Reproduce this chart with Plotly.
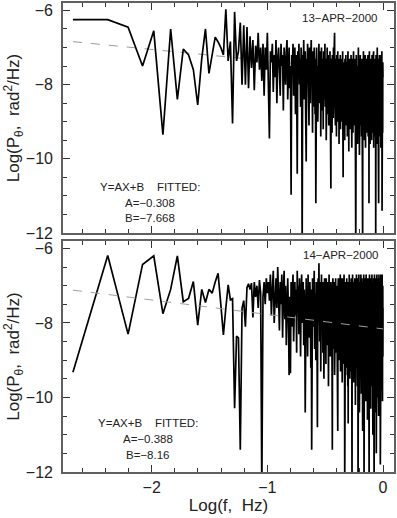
import numpy as np
import plotly.graph_objects as go

N_POINTS = 480
F_STEP = 1.0 / 480.0  # Hz

top_sparse = [-6.25, -6.25, -6.45, -7.5, -6.55, -9.35, -6.5, -8.4, -7.04, -7.2,
              -7.6, -8.55, -7.3, -6.5, -7.7, -7.15, -6.72, -6.85, -7.0, -7.2,
              -5.97, -7.36, -6.84, -9.05, -6.04, -7.36, -7.1, -6.33, -8.0, -6.4,
              -8.0, -6.45, -8.1, -6.7, -7.55, -6.8, -8.15, -6.95, -7.4, -6.6,
              -7.6, -7.0, -7.9, -6.9, -8.3, -7.0, -7.6, -6.6, -7.8, -9.45]
top_dense = [
    -7.1, -7.4, -6.9, -8.2, -7.2, -7.8, -6.8, -8.5, -7.3, -7.0,
    -7.6, -8.3, -6.9, -7.5, -7.2, -8.7, -7.0, -7.4, -8.0, -7.1,
    -6.8, -8.4, -7.3, -7.0, -8.1, -7.5, -10.97, -7.2, -7.6, -6.9,
    -8.3, -7.4, -7.0, -8.8, -7.2, -7.7, -10.4, -7.1, -7.8, -6.9,
    -8.0, -7.3, -8.6, -7.0, -7.5, -12.5, -7.2, -7.9, -6.8, -8.4,
    -7.4, -7.1, -8.9, -10.07, -7.3, -7.6, -6.9, -8.2, -7.4, -9.1,
    -7.0, -7.7, -8.5, -7.2, -6.8, -8.0, -7.5, -9.3, -7.1, -7.8,
    -8.6, -7.0, -7.4, -8.8, -7.3, -11.2, -7.6, -7.0, -8.3, -7.5,
    -9.0, -7.2, -7.8, -6.9, -8.5, -7.4, -8.1, -7.1, -9.4, -7.6,
    -7.0, -8.7, -7.3, -8.0, -7.5, -9.2, -7.1, -7.9, -8.4, -7.2,
    -6.9, -8.6, -7.6, -7.3, -9.5, -7.4, -8.2, -7.0, -8.8, -7.5,
    -7.2, -8.3, -9.1, -7.4, -7.8, -8.6, -7.1, -9.0, -7.6, -10.8,
    -7.3, -8.1, -7.5, -9.3, -7.2, -8.4, -7.7, -8.9, -7.0, -8.2,
    -7.4, -6.9, -6.6, -8.5, -7.6, -9.1, -7.3, -8.0, -7.8, -9.4,
    -7.2, -8.3, -7.5, -8.8, -7.1, -9.0, -7.6, -8.4, -7.3, -9.6,
    -7.4, -8.1, -7.8, -8.7, -7.2, -9.2, -7.5, -8.5, -7.9, -9.0,
    -7.3, -8.6, -7.6, -8.2, -7.1, -9.3, -10.5, -7.7, -8.4, -7.4,
    -8.9, -7.6, -8.1, -9.5, -7.3, -8.6, -7.8, -8.3, -7.2, -9.1,
    -7.5, -8.7, -7.9, -8.4, -7.4, -9.4, -7.6, -8.2, -7.1, -8.9,
    -7.7, -8.5, -9.8, -7.5, -8.1, -7.3, -8.8, -7.8, -9.2, -7.4,
    -8.4, -7.9, -8.6, -7.2, -9.0, -7.6, -8.3, -9.7, -7.5, -8.7,
    -7.3, -8.2, -7.8, -9.3, -7.5, -8.5, -7.1, -8.9, -7.7, -8.4,
    -9.1, -7.4, -8.6, -7.9, -8.2, -7.3, -9.5, -7.6, -12.5, -7.8,
    -8.4, -7.2, -8.8, -7.7, -9.0, -7.5, -8.3, -7.9, -9.6, -7.4,
    -8.5, -7.8, -8.1, -7.0, -9.2, -7.6, -8.7, -7.3, -8.4, -9.9,
    -7.5, -8.2, -7.9, -8.8, -7.2, -9.1, -7.7, -8.5, -7.4, -8.9,
    -7.6, -8.3, -9.4, -7.5, -8.0, -7.3, -11.5, -7.9, -8.6, -12.5,
    -7.4, -8.7, -7.8, -9.2, -7.1, -8.4, -7.6, -9.0, -7.9, -8.2,
    -7.3, -9.5, -7.7, -8.6, -7.5, -8.9, -7.2, -8.3, -9.7, -7.6,
    -8.5, -7.8, -9.1, -7.4, -8.2, -7.9, -8.8, -7.3, -9.3, -7.7,
    -8.4, -7.5, -9.0, -7.8, -8.6, -7.2, -9.4, -7.6, -8.3, -7.9,
    -8.8, -7.4, -11.2, -7.7, -8.5, -7.1, -9.2, -7.8, -8.2, -7.5,
    -9.6, -7.6, -8.7, -7.3, -8.9, -7.9, -8.4, -7.5, -9.1, -7.7,
    -8.3, -7.4, -9.5, -7.8, -8.6, -7.2, -8.1, -7.9, -9.0, -7.5,
    -8.8, -7.6, -9.3, -7.3, -8.5, -7.8, -8.2, -7.1, -9.7, -7.6,
    -8.4, -7.9, -8.9, -7.4, -9.2, -7.7, -8.3, -7.5, -8.7, -7.8,
    -9.4, -7.3, -8.6, -7.9, -12.5, -7.6, -8.5, -7.2, -9.1, -7.8,
    -8.2, -7.5, -9.6, -7.4, -8.8, -7.7, -8.4, -7.0, -9.3, -7.9,
    -8.6, -7.3, -8.9, -7.6, -8.2, -7.8, -9.5, -7.5, -8.4, -11.2,
    -7.7, -8.7, -7.4, -9.0, -7.9, -8.3, -7.2, -9.2, -7.6, -8.5,
    -7.8, -9.4, -7.3, -8.6, -7.5, -8.8, -7.9, -8.1, -7.4, -9.7,
    -7.7, -8.4, -7.2, -9.1, -7.8, -8.6, -7.5, -8.3, -7.1, -9.0,
    -11.4, -7.6, -8.7, -7.3, -8.2, -7.9, -9.3, -7.4, -8.5, -7.8]
top_values = top_sparse + top_dense

bot_sparse = [-9.32, -6.19, -8.3, -6.43, -6.2, -7.75, -7.1, -6.2, -7.43, -7.34,
              -6.89, -8.06, -7.1, -7.45, -7.1, -7.2, -6.9, -6.67, -7.5, -8.32,
              -7.6, -6.98, -7.38, -7.35, -10.29, -8.35, -8.4, -11.4, -7.6, -7.4,
              -8.1, -7.05, -6.95, -7.1, -6.93, -7.85, -6.9, -7.3, -7.0, -7.6,
              -6.85, -7.2, -12.5, -7.3, -6.9, -7.5, -6.8, -7.2, -6.9, -7.4]
bot_dense = [
    -6.7, -7.8, -7.1, -6.6, -8.0, -7.0, -6.8, -7.6, -6.5, -7.3,
    -8.2, -6.9, -7.5, -6.7, -8.4, -7.2, -6.6, -7.9, -7.0, -8.6,
    -7.1, -6.8, -7.7, -9.4, -7.3, -9.35, -6.9, -8.1, -7.2, -6.7,
    -8.5, -7.4, -6.9, -7.8, -7.1, -8.8, -6.6, -7.5, -7.0, -8.3,
    -6.8, -7.6, -8.9, -7.2, -6.7, -8.0, -7.4, -6.9, -8.6, -7.1,
    -7.7, -10.4, -7.0, -6.8, -8.2, -7.3, -8.9, -6.7, -7.6, -7.2,
    -8.4, -6.9, -7.5, -9.2, -7.1, -11.4, -7.4, -6.8, -8.1, -7.0,
    -7.8, -6.6, -8.7, -7.2, -7.5, -9.0, -6.9, -7.7, -8.3, -10.8,
    -7.0, -6.8, -8.0, -6.4, -7.6, -8.5, -7.1, -6.9, -9.3, -7.4,
    -6.7, -8.2, -7.3, -7.0, -8.8, -6.9, -7.7, -9.5, -7.2, -6.8,
    -8.4, -7.5, -7.0, -9.1, -6.8, -7.9, -8.6, -7.2, -6.9, -8.0,
    -7.4, -9.7, -7.1, -6.7, -8.3, -7.6, -7.0, -8.9, -7.3, -6.9,
    -8.5, -7.2, -7.8, -9.2, -11.4, -7.0, -6.8, -8.1, -7.5, -8.7,
    -7.1, -6.9, -9.4, -7.6, -7.2, -8.3, -6.8, -7.9, -8.8, -7.3,
    -7.0, -8.6, -7.4, -9.9, -10.9, -7.1, -6.8, -8.2, -7.6, -9.0,
    -6.9, -6.8, -8.5, -7.3, -6.7, -9.3, -7.5, -8.1, -6.8, -8.7,
    -7.1, -6.8, -9.6, -7.8, -8.3, -6.8, -8.9, -7.0, -7.6, -9.1,
    -6.7, -8.4, -7.5, -12.5, -6.9, -8.6, -6.9, -9.4, -7.7, -8.0,
    -7.0, -8.8, -6.8, -9.2, -7.6, -8.3, -6.9, -9.7, -7.1, -10.7,
    -6.9, -8.5, -7.8, -9.0, -6.7, -8.7, -7.5, -9.5, -7.0, -8.2,
    -6.9, -9.3, -7.6, -8.4, -6.8, -8.9, -7.7, -9.8, -12.5, -7.1,
    -8.1, -6.7, -9.1, -7.5, -8.6, -6.9, -9.6, -7.8, -8.3, -6.9,
    -8.8, -7.1, -9.4, -6.8, -8.5, -7.7, -10.2, -7.0, -8.0, -9.2,
    -7.6, -8.7, -6.7, -9.0, -7.5, -8.4, -6.9, -9.7, -7.8, -8.2,
    -6.8, -12.5, -7.1, -8.9, -7.6, -9.3, -6.7, -8.6, -7.7, -10.4,
    -7.0, -8.1, -7.5, -9.5, -6.9, -8.8, -7.8, -9.1, -6.7, -8.4,
    -7.6, -9.9, -7.0, -8.6, -6.8, -9.2, -7.7, -8.3, -7.1, -10.9,
    -7.5, -8.7, -6.9, -9.4, -7.8, -8.5, -6.7, -9.0, -12.5, -7.6,
    -8.2, -7.0, -9.6, -7.7, -8.8, -6.8, -9.3, -7.5, -8.4, -10.1,
    -7.1, -8.9, -6.7, -9.5, -7.8, -8.6, -6.9, -9.1, -7.6, -8.3,
    -7.0, -10.6, -7.7, -8.7, -6.8, -9.4, -7.5, -8.5, -7.8, -9.8,
    -6.9, -8.2, -7.6, -12.5, -7.1, -9.0, -6.7, -8.8, -7.7, -9.6,
    -7.0, -8.4, -7.9, -9.2, -6.8, -10.3, -7.5, -8.6, -6.9, -9.0,
    -7.8, -8.9, -7.1, -9.7, -6.7, -8.3, -7.6, -9.4, -7.0, -8.7,
    -7.7, -11.0, -6.9, -8.5, -7.5, -9.1, -7.8, -8.2, -6.8, -9.9,
    -7.1, -12.5, -7.6, -8.8, -6.7, -9.5, -7.0, -8.4, -7.9, -9.2,
    -6.9, -8.6, -7.5, -10.4, -7.7, -8.9, -6.8, -9.3, -7.1, -11.5,
    -7.8, -8.3, -7.0, -9.6, -6.7, -8.7, -7.6, -9.0, -6.9, -8.5,
    -7.5, -10.0, -7.8, -8.4, -6.8, -9.4, -7.1, -8.8, -7.7, -10.5,
    -7.0, -8.6, -6.7, -9.7, -7.6, -8.2, -7.9, -9.1, -6.9, -8.9,
    -7.5, -10.2, -6.8, -8.5, -11.8, -7.1, -8.7, -7.8, -9.3, -6.7,
    -8.4, -7.6, -9.8, -7.0, -8.8, -7.7, -9.0, -6.9, -8.3, -7.5,
    -9.5, -6.7, -8.6, -7.1, -10.1, -7.8, -8.2, -7.0, -8.9, -7.6]
bot_values = bot_sparse + bot_dense

FIT_TOP = (-0.308, -7.668)
FIT_BOT = (-0.388, -8.16)
DATE_TOP = "13\u2212APR\u22122000"
DATE_BOT = "14\u2212APR\u22122000"

logf = np.log10(np.arange(1, N_POINTS + 1) * F_STEP)
fit_x = np.array([logf[0], logf[-1]])

FONT = "Liberation Sans, Arial, sans-serif"
FRAME = "#606060"

fig = go.Figure()
# top panel: fit under data
fig.add_trace(go.Scatter(x=fit_x, y=FIT_TOP[0] * fit_x + FIT_TOP[1], mode="lines",
                         line=dict(color="#9a9a9a", width=1, dash="dash"),
                         xaxis="x", yaxis="y", hoverinfo="skip"))
fig.add_trace(go.Scatter(x=logf, y=top_values, mode="lines",
                         line=dict(color="black", width=1.7), xaxis="x", yaxis="y"))
# bottom panel: fit over data
fig.add_trace(go.Scatter(x=logf, y=bot_values, mode="lines",
                         line=dict(color="black", width=1.7), xaxis="x2", yaxis="y2"))
fig.add_trace(go.Scatter(x=fit_x, y=FIT_BOT[0] * fit_x + FIT_BOT[1], mode="lines",
                         line=dict(color="#a0a0a0", width=1, dash="dash"),
                         xaxis="x2", yaxis="y2", hoverinfo="skip"))

tickfont = dict(family=FONT, size=16, color="#222")
xcommon = dict(range=[-2.767, 0.095], dtick=1, tick0=0, ticks="inside", ticklen=7,
               tickcolor="#333", tickwidth=1, showline=True, linecolor=FRAME,
               linewidth=1.6, mirror="allticks", showgrid=False, zeroline=False,
               minor=dict(dtick=0.2, tick0=0, ticks="inside", ticklen=4,
                          tickcolor="#333", tickwidth=1, showgrid=False),
               tickfont=tickfont)
ycommon = dict(range=[-12, -5.8], dtick=2, tick0=0, ticks="inside", ticklen=7,
               tickcolor="#333", tickwidth=1, showline=True, linecolor=FRAME,
               linewidth=1.6, mirror="allticks", showgrid=False, zeroline=False,
               minor=dict(dtick=0.5, tick0=0, ticks="inside", ticklen=4,
                          tickcolor="#333", tickwidth=1, showgrid=False),
               tickfont=tickfont, ticklabelstandoff=5)
ytitle = dict(text="Log(P<sub>θ</sub>,&nbsp;&nbsp;rad<sup>2</sup>/Hz)",
              font=dict(family=FONT, size=17, color="#222"), standoff=1)

fig.update_layout(
    width=397, height=518,
    margin=dict(l=63, r=2, t=1, b=46),
    paper_bgcolor="white", plot_bgcolor="white",
    showlegend=False,
    xaxis=dict(**xcommon, domain=[0, 1], anchor="y", showticklabels=False),
    yaxis=dict(**ycommon, domain=[0.5096, 1], anchor="x", title=ytitle),
    xaxis2=dict(**xcommon, domain=[0, 1], anchor="y2",
                title=dict(text="Log(f,&nbsp;&nbsp;Hz)",
                           font=dict(family=FONT, size=17, color="#222"), standoff=3)),
    yaxis2=dict(**ycommon, domain=[0, 0.4926], anchor="x2", title=ytitle),
)

afont = dict(family=FONT, size=11.5, color="#222")
ann = [
    (DATE_TOP, -0.379, -6.21, "x", "y"),
    ("Y=AX+B&nbsp;&nbsp;&nbsp;&nbsp;FITTED:", -2.017, -10.75, "x", "y"),
    ("A=\u2212%.3f" % abs(FIT_TOP[0]), -2.017, -11.2, "x", "y"),
    ("B=\u2212%.3f" % abs(FIT_TOP[1]), -2.017, -11.6, "x", "y"),
    (DATE_BOT, -0.365, -6.18, "x2", "y2"),
    ("Y=AX+B&nbsp;&nbsp;&nbsp;&nbsp;FITTED:", -2.034, -10.69, "x2", "y2"),
    ("A=\u2212%.3f" % abs(FIT_BOT[0]), -2.034, -11.12, "x2", "y2"),
    ("B=\u2212%.2f" % abs(FIT_BOT[1]), -2.034, -11.55, "x2", "y2"),
]
for t, x, y, xr, yr in ann:
    fig.add_annotation(text=t, x=x, y=y, xref=xr, yref=yr, showarrow=False,
                       font=afont, xanchor="center", yanchor="middle")

fig.write_html("out.html", config={"displayModeBar": False},
               post_script="document.body.style.margin='0';document.body.style.overflow='hidden';")
